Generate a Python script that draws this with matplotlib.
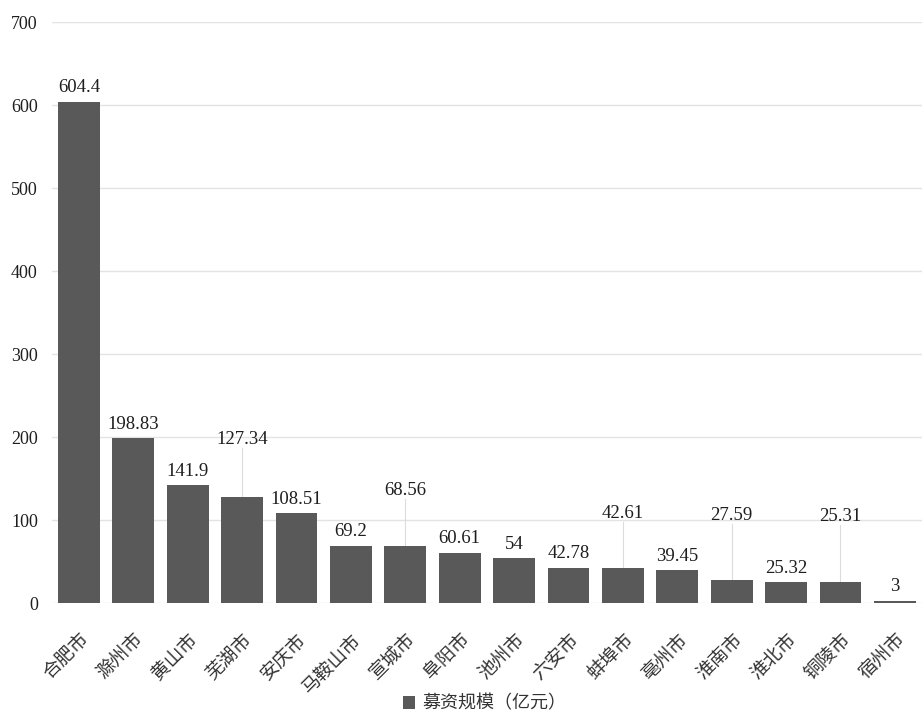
import numpy as np
import matplotlib.pyplot as plt

cities = ["合肥市", "滁州市", "黄山市", "芜湖市", "安庆市", "马鞍山市", "宣城市", "阜阳市",
          "池州市", "六安市", "蚌埠市", "亳州市", "淮南市", "淮北市", "铜陵市", "宿州市"]
funds = [604.4, 198.83, 141.9, 127.34, 108.51, 69.2, 68.56, 60.61,
         54, 42.78, 42.61, 39.45, 27.59, 25.32, 25.31, 3]
labels = ["604.4", "198.83", "141.9", "127.34", "108.51", "69.2", "68.56", "60.61",
          "54", "42.78", "42.61", "39.45", "27.59", "25.32", "25.31", "3"]

# labels lifted above the bar with a leader line (index -> label height)
lifted = {3: 187, 6: 125, 10: 98, 12: 95, 14: 94}

plt.rcParams['font.family'] = ['Liberation Serif', 'Noto Sans CJK SC']

fig = plt.figure(figsize=(9.23, 7.18), dpi=100)
ax = fig.add_axes([0.056, 0.160, 0.943, 0.809])

x = np.arange(len(cities))
bars = ax.bar(x, funds, width=0.77, color="#595959", zorder=3)

for i, (v, t) in enumerate(zip(funds, labels)):
    if i in lifted:
        y = lifted[i]
        ax.plot([i, i], [v, y], color="#dcdcdc", linewidth=0.8, zorder=2)
        ax.text(i, y, t, ha="center", va="bottom", fontsize=13.5, color="#1e1e1e")
    else:
        ax.annotate(t, (i, v), xytext=(0, 4), textcoords="offset points",
                    ha="center", va="bottom", fontsize=13.5, color="#1e1e1e")

ax.set_xlim(-0.5, len(cities) - 0.5)
ax.set_ylim(0, 700)
ax.set_yticks(range(0, 701, 100))
ax.yaxis.grid(True, color="#e3e3e3", linewidth=1, zorder=0)
ax.tick_params(axis="y", length=0, labelsize=13, labelcolor="#1e1e1e", pad=10)
ax.tick_params(axis="x", length=0, pad=19)
for s in ax.spines.values():
    s.set_visible(False)

ax.set_xticks(x)
ax.set_xticklabels(cities, rotation=45, ha="right", rotation_mode="anchor",
                   fontsize=13.5, color="#333333", family=["Noto Sans CJK SC"])

leg = fig.legend(handles=[bars], labels=["募资规模（亿元）"], loc="center",
                 bbox_to_anchor=(0.525, 0.02), frameon=False, handlelength=0.7,
                 handleheight=0.7, handletextpad=0.4,
                 prop={"family": "Noto Sans CJK SC", "size": 13})
for t in leg.get_texts():
    t.set_color("#333333")

plt.savefig("out.png", dpi=100)
